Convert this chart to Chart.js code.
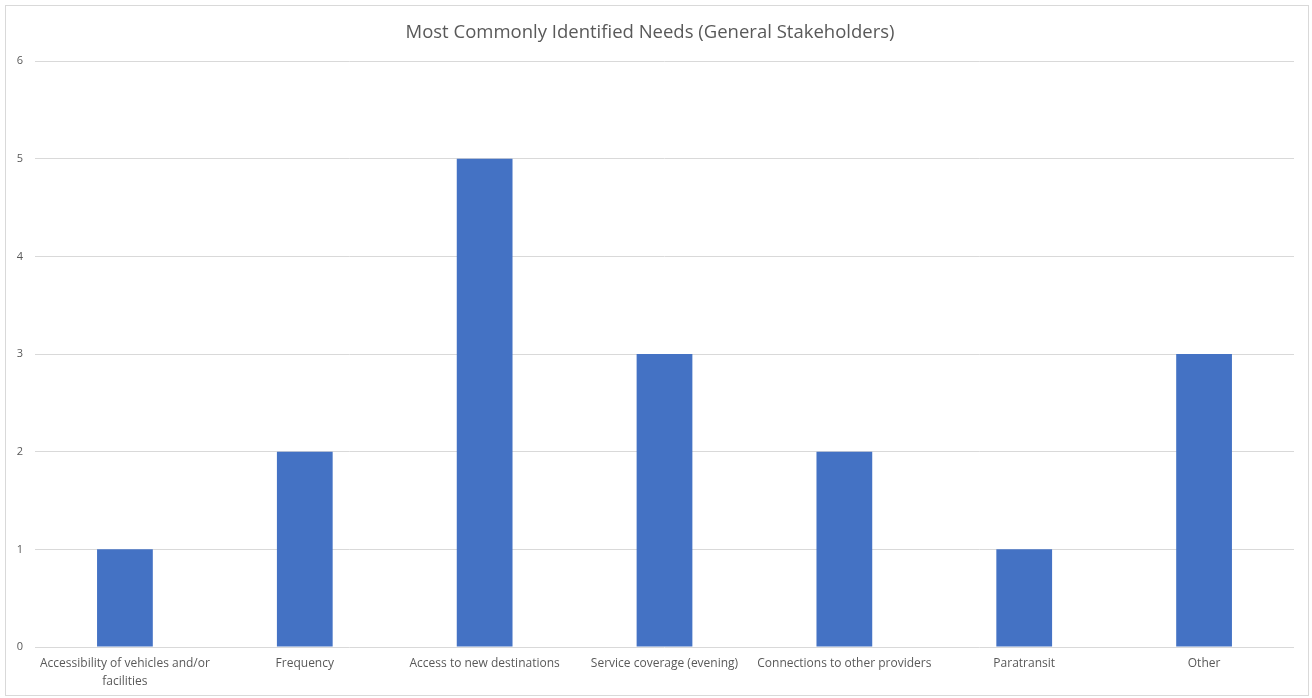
<!DOCTYPE html>
<html>
<head>
<meta charset="utf-8">
<script src="https://cdn.jsdelivr.net/npm/chart.js@4"></script>
<style>
  html, body { margin: 0; padding: 0; background: #fff; }
  #frame {
    position: absolute; left: 5px; top: 5px;
    width: 1302px; height: 689px;
    border: 1px solid #d9d9d9;
  }
</style>
</head>
<body>
<div id="frame"><canvas id="chart" width="1302" height="689"></canvas></div>
<script>
// data
const categories = [
    ['Accessibility of vehicles and/or', 'facilities'],
    'Frequency',
    'Access to new destinations',
    'Service coverage (evening)',
    'Connections to other providers',
    'Paratransit',
    'Other'
];
const counts = [1, 2, 5, 3, 2, 1, 3];
const yTicks = [0, 1, 2, 3, 4, 5, 6];

const textColor = '#595959';
const gridColor = '#d9d9d9';
const fontFamily = '"Open Sans", "Liberation Sans", sans-serif';

const ctx = document.getElementById('chart').getContext('2d');

new Chart(ctx, {
    type: 'bar',
    data: {
        labels: categories,
        datasets: [{
            label: 'Count',
            data: counts,
            backgroundColor: '#4472c4',
            categoryPercentage: 1,
            barPercentage: 0.31
        }]
    },
    options: {
        responsive: false,
        animation: false,
        layout: { padding: { top: 8, right: 14, bottom: 0, left: 0 } },
        plugins: {
            legend: { display: false },
            tooltip: { enabled: false },
            title: {
                display: true,
                text: 'Most Commonly Identified Needs (General Stakeholders)',
                color: textColor,
                font: { family: fontFamily, size: 18.5, weight: 'normal' },
                padding: { top: 8, bottom: 17 }
            }
        },
        scales: {
            y: {
                min: 0,
                max: 6,
                afterBuildTicks: (scale) => { scale.ticks = yTicks.map(v => ({ value: v })); },
                afterFit: (scale) => { scale.width = 29; },
                ticks: {
                    color: textColor,
                    font: { family: fontFamily, size: 11 },
                    padding: 12
                },
                grid: { color: gridColor, lineWidth: 1, drawTicks: false },
                border: { display: false }
            },
            x: {
                afterFit: (scale) => { scale.height = 48; },
                ticks: {
                    color: textColor,
                    font: { family: fontFamily, size: 12, lineHeight: 1.5 },
                    maxRotation: 0,
                    autoSkip: false,
                    padding: 8
                },
                grid: { display: false, drawTicks: false },
                border: { display: false }
            }
        }
    }
});
</script>
</body>
</html>
